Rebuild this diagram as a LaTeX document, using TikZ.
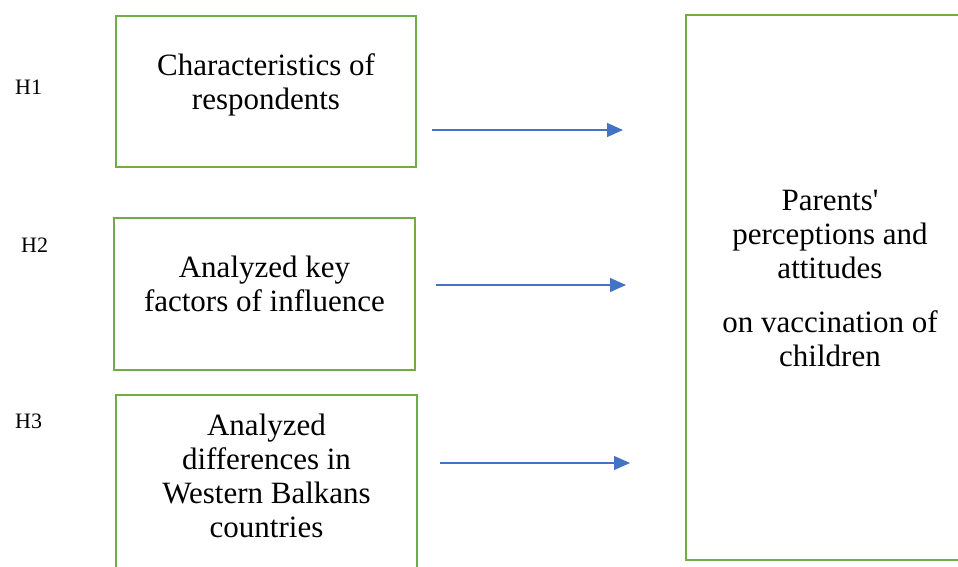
\documentclass[tikz,border=0pt]{standalone}
\usepackage{fontspec}
\setmainfont{Liberation Serif}
\usetikzlibrary{arrows.meta}
\definecolor{boxgreen}{HTML}{70AD47}
\definecolor{arrowblue}{HTML}{4472C4}
\begin{document}
\begin{tikzpicture}[x=1pt,y=-1pt,
  gbox/.style={draw=boxgreen, line width=2pt, inner sep=0pt},
  btext/.style={align=center, font=\fontsize{31}{34}\selectfont, inner sep=0pt},
  hlabel/.style={anchor=base west, font=\fontsize{22}{24}\selectfont, inner sep=0pt},
  link/.style={draw=arrowblue, line width=1.3pt, -{Triangle[length=16pt,width=14pt]}}]
\useasboundingbox (0,0) rectangle (958,567);
\clip (0,0) rectangle (958,567);
% boxes
\node[gbox, minimum width=300pt, minimum height=151pt] (b1) at (266,91.5) {};
\node[gbox, minimum width=301pt, minimum height=152pt] (b2) at (264.5,294) {};
\node[gbox, minimum width=301pt, minimum height=205pt] (b3) at (266.5,497.5) {};
\node[gbox, minimum width=294pt, minimum height=545pt] (b4) at (833,287.5) {};
% texts
\node[btext] (t1) at (266,85) {Characteristics of\\respondents};
\node[btext] (t2) at (264.5,284) {Analyzed key\\factors of influence};
\node[btext] (t3) at (266.5,475.5) {Analyzed\\differences in\\Western Balkans\\countries};
\node[btext] (t4) at (830,278.5) {Parents\textquotesingle\\perceptions and\\attitudes\\[20pt]on vaccination of\\children};
% hypothesis labels
\node[hlabel] (h1) at (15,95) {H1};
\node[hlabel] (h2) at (21,252) {H2};
\node[hlabel] (h3) at (15,428) {H3};
% arrows
\coordinate (a1s) at (432,130);
\coordinate (a1e) at (623,130);
\coordinate (a2s) at (436,285);
\coordinate (a2e) at (626,285);
\coordinate (a3s) at (440,463);
\coordinate (a3e) at (630,463);
\draw[link] (a1s) -- (a1e);
\draw[link] (a2s) -- (a2e);
\draw[link] (a3s) -- (a3e);
\end{tikzpicture}
\end{document}
